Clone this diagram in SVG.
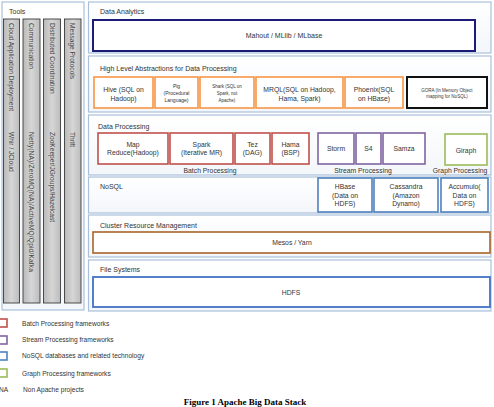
<svg xmlns="http://www.w3.org/2000/svg" width="494" height="407" viewBox="0 0 494 407">
<defs>
<linearGradient id="colg" x1="0" y1="0" x2="1" y2="0">
<stop offset="0" stop-color="#b9b9b9"/>
<stop offset="0.5" stop-color="#d6d6d6"/>
<stop offset="1" stop-color="#bcbcbc"/>
</linearGradient>
<linearGradient id="pang" x1="0" y1="0" x2="0" y2="1">
<stop offset="0" stop-color="#ffffff"/>
<stop offset="1" stop-color="#f3f6fa"/>
</linearGradient>
</defs>
<style>
text{font-family:"Liberation Sans",Arial,sans-serif;fill:#333;}
.panel{fill:url(#pang);stroke:#a9c0db;stroke-width:1.2;}
.col{fill:url(#colg);stroke:#3c3c3c;stroke-width:0.9;}
.lbl{font-size:7px;}
.t{font-size:6.8px;text-anchor:middle;}
.ts{font-size:5px;text-anchor:middle;}
.tx{font-size:4.5px;text-anchor:middle;}
.vt{font-size:6.6px;fill:#444;}
.box{fill:#fff;}
.or{stroke:#f79646;stroke-width:1.6;}
.rd{stroke:#c0504d;stroke-width:1.6;}
.pu{stroke:#8064a2;stroke-width:1.6;}
.bl{stroke:#4f81bd;stroke-width:1.6;}
.gr{stroke:#9bbb59;stroke-width:1.6;}
.leg{font-size:6.6px;}
</style>

<g id="tools">
<rect class="panel" x="2" y="2" width="82" height="308"/>
<text class="lbl" x="9" y="14">Tools</text>
<g id="col-cloud">
<rect class="col" x="3.5" y="19" width="16" height="284"/>
<text class="vt" transform="translate(11.5,23) rotate(90)" dominant-baseline="central">Cloud Application Deployment</text>
<text class="vt" transform="translate(11.5,132) rotate(90)" dominant-baseline="central">Whir / JCloud</text>
</g>
<g id="col-comm">
<rect class="col" x="23" y="19" width="17" height="284"/>
<text class="vt" transform="translate(31.5,23) rotate(90)" dominant-baseline="central">Communication</text>
<text class="vt" transform="translate(31.5,132) rotate(90)" dominant-baseline="central" textLength="140" lengthAdjust="spacing">Netty(NA)/ZeroMQ(NA)/ActiveMQ/Qpid/Kafka</text>
</g>
<g id="col-coord">
<rect class="col" x="43.5" y="19" width="17" height="284"/>
<text class="vt" transform="translate(52,23) rotate(90)" dominant-baseline="central">Distributed Coordination</text>
<text class="vt" transform="translate(52,132) rotate(90)" dominant-baseline="central">ZooKeeper/JGroups/Hazelcast</text>
</g>
<g id="col-msg">
<rect class="col" x="64.5" y="19" width="16.5" height="284"/>
<text class="vt" transform="translate(72.7,23) rotate(90)" dominant-baseline="central">Message Protocols</text>
<text class="vt" transform="translate(72.7,132) rotate(90)" dominant-baseline="central">Thrift</text>
</g>
</g>

<g id="data-analytics">
<rect class="panel" x="88.5" y="2" width="402.5" height="51"/>
<text class="lbl" x="100" y="13.5">Data Analytics</text>
<g id="mahout">
<rect class="box" x="93" y="20" width="382" height="31" stroke="#1c1c78" stroke-width="2"/>
<text class="t" style="font-size:7px" x="284" y="37.5">Mahout / MLlib / MLbase</text>
</g>
</g>

<g id="high-level">
<rect class="panel" x="88.5" y="56" width="402.5" height="56"/>
<text class="lbl" x="100" y="70.5">High Level Abstractions for Data Processing</text>
<g id="hive"><rect class="box or" x="94" y="77" width="59" height="31"/>
<text class="t" x="123.5" y="92">Hive (SQL on</text><text class="t" x="123.5" y="101">Hadoop)</text></g>
<g id="pig"><rect class="box or" x="155" y="77" width="43" height="31"/>
<text class="ts" x="176.5" y="88">Pig</text><text class="ts" x="176.5" y="95">(Procedural</text><text class="ts" x="176.5" y="102">Language)</text></g>
<g id="shark"><rect class="box or" x="200" y="77" width="54" height="31"/>
<text class="tx" x="227" y="88">Shark (SQL on</text><text class="tx" x="227" y="95">Spark, not</text><text class="tx" x="227" y="102">Apache)</text></g>
<g id="mrql"><rect class="box or" x="256" y="77" width="87" height="31"/>
<text class="t" x="299.5" y="92">MRQL(SQL on Hadoop,</text><text class="t" x="299.5" y="101">Hama, Spark)</text></g>
<g id="phoenix"><rect class="box or" x="345" y="77" width="58" height="31"/>
<text class="t" x="374" y="92">Phoenix(SQL</text><text class="t" x="374" y="101">on HBase)</text></g>
<g id="gora"><rect class="box" x="407" y="77" width="80" height="31" stroke="#111" stroke-width="2"/>
<text class="tx" x="447" y="91.5">GORA (In Memory Object</text><text class="tx" x="447" y="98">mapping for NoSQL)</text></g>
</g>

<g id="data-processing">
<rect class="panel" x="88.5" y="115" width="402.5" height="60"/>
<text class="lbl" x="98" y="128.5">Data Processing</text>
<g id="mapreduce"><rect class="box rd" x="98" y="133" width="70" height="31"/>
<text class="t" x="133" y="146.5">Map</text><text class="t" x="133" y="155">Reduce(Hadoop)</text></g>
<g id="spark"><rect class="box rd" x="170" y="133" width="63" height="31"/>
<text class="t" x="201.5" y="146.5">Spark</text><text class="t" x="201.5" y="155">(Iterative MR)</text></g>
<g id="tez"><rect class="box rd" x="235" y="133" width="35" height="31"/>
<text class="t" x="252.5" y="146.5">Tez</text><text class="t" x="252.5" y="155">(DAG)</text></g>
<g id="hama"><rect class="box rd" x="272" y="133" width="37" height="31"/>
<text class="t" x="290.5" y="146.5">Hama</text><text class="t" x="290.5" y="155">(BSP)</text></g>
<g id="storm"><rect class="box pu" x="318" y="133" width="36" height="31"/>
<text class="t" x="336" y="151">Storm</text></g>
<g id="s4"><rect class="box pu" x="356" y="133" width="25" height="31"/>
<text class="t" x="368.5" y="151">S4</text></g>
<g id="samza"><rect class="box pu" x="383" y="133" width="42" height="31"/>
<text class="t" x="404" y="151">Samza</text></g>
<g id="giraph"><rect class="box gr" x="445" y="134" width="42" height="31"/>
<text class="t" x="466" y="153">Giraph</text></g>
<text class="t" x="210" y="172.5">Batch Processing</text>
<text class="t" x="363" y="172.5">Stream Processing</text>
<text class="t" x="460" y="172.5">Graph Processing</text>
</g>

<g id="nosql">
<rect class="panel" x="88.5" y="177" width="402.5" height="36"/>
<text class="lbl" x="100" y="188.5">NoSQL</text>
<g id="hbase"><rect class="box bl" x="318" y="178" width="54" height="34"/>
<text class="t" x="345" y="189">HBase</text><text class="t" x="345" y="197.5">(Data on</text><text class="t" x="345" y="206">HDFS)</text></g>
<g id="cassandra"><rect class="box bl" x="374" y="178" width="64" height="34"/>
<text class="t" x="406" y="189">Cassandra</text><text class="t" x="406" y="197.5">(Amazon</text><text class="t" x="406" y="206">Dynamo)</text></g>
<g id="accumulo"><rect class="box bl" x="441" y="178" width="47" height="34"/>
<text class="t" x="464.5" y="189">Accumulo(</text><text class="t" x="464.5" y="197.5">Data on</text><text class="t" x="464.5" y="206">HDFS)</text></g>
</g>

<g id="cluster">
<rect class="panel" x="88.5" y="215" width="402.5" height="42"/>
<text class="lbl" x="100" y="227.5">Cluster Resource Management</text>
<g id="mesos"><rect class="box" x="93" y="232" width="397" height="21" stroke="#a8642a" stroke-width="1.6"/>
<text class="t" x="292" y="245">Mesos / Yarn</text></g>
</g>

<g id="filesystems">
<rect class="panel" x="88.5" y="260" width="402.5" height="51"/>
<text class="lbl" x="100" y="271.5">File Systems</text>
<g id="hdfs"><rect class="box" x="93" y="277" width="397" height="30" stroke="#4472c4" stroke-width="1.8"/>
<text class="t" x="291" y="295">HDFS</text></g>
</g>

<g id="legend">
<rect class="box rd" x="-2" y="319" width="9" height="8"/>
<rect class="box pu" x="-2" y="336" width="9" height="8"/>
<rect class="box bl" x="-2" y="352" width="9" height="8"/>
<rect class="box gr" x="-2" y="369" width="9" height="8"/>
<text class="leg" x="22" y="325.5">Batch Processing frameworks</text>
<text class="leg" x="22" y="342">Stream Processing frameworks</text>
<text class="leg" x="22" y="358">NoSQL databases and related technology</text>
<text class="leg" x="22" y="375.5">Graph Processing frameworks</text>
<text class="leg" x="-1" y="391.5">NA</text>
<text class="leg" x="23" y="391.5">Non Apache projects</text>
</g>

<text x="245" y="405" text-anchor="middle" style="font-family:'Liberation Serif','Times New Roman',serif;font-weight:bold;font-size:9px;fill:#000">Figure 1 Apache Big Data Stack</text>
</svg>
